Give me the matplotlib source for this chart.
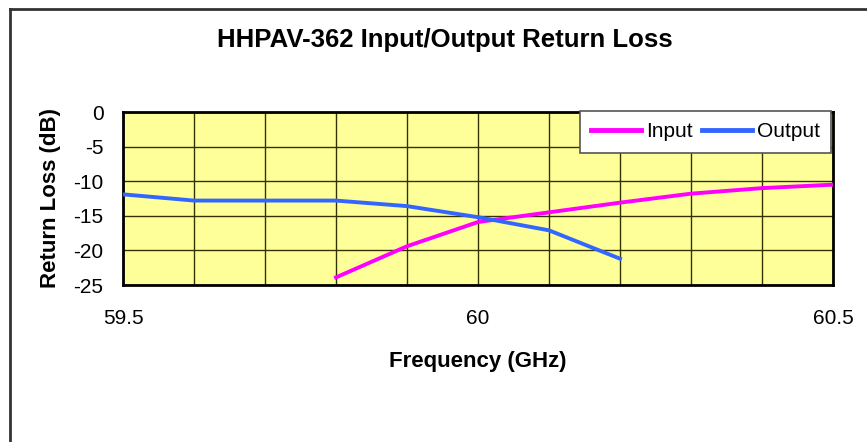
import matplotlib
matplotlib.use('Agg')
import matplotlib.pyplot as plt
from matplotlib.lines import Line2D

# frequency points (GHz) and return loss (dB)
freq_in = [59.8, 59.9, 60.0, 60.1, 60.2, 60.3, 60.4, 60.5]
loss_in = [-23.9, -19.4, -15.9, -14.5, -13.1, -11.8, -11.0, -10.5]

freq_out = [59.5, 59.6, 59.7, 59.8, 59.9, 60.0, 60.1, 60.2]
loss_out = [-11.9, -12.8, -12.8, -12.8, -13.6, -15.2, -17.1, -21.2]

x_ticks = [59.5, 60.0, 60.5]
x_tick_labels = ['59.5', '60', '60.5']
y_ticks = [0, -5, -10, -15, -20, -25]

plt.rcParams['font.family'] = ['Liberation Sans', 'DejaVu Sans']
plt.rcParams['axes.unicode_minus'] = False

fig = plt.figure(figsize=(8.67, 4.42), dpi=100)
ax = fig.add_axes([123 / 867, 1 - 285 / 442, (833 - 123) / 867, (285 - 112) / 442])
ax.set_facecolor('#FFFF99')

ax.plot(freq_in, loss_in, color='#FF00FF', lw=2.8, label='Input', zorder=3)
ax.plot(freq_out, loss_out, color='#3366FF', lw=2.8, label='Output', zorder=3)

ax.set_xlim(59.5, 60.5)
ax.set_ylim(-25, 0)
ax.set_xticks(x_ticks)
ax.set_xticklabels(x_tick_labels)
ax.set_xticks([59.5 + 0.1 * i for i in range(11)], minor=True)
ax.set_yticks(y_ticks)
ax.grid(True, which='both', color='#333300', lw=1.0, zorder=1)
ax.set_axisbelow(True)
ax.tick_params(axis='both', which='both', length=0, labelsize=15)
ax.tick_params(axis='x', pad=17)
ax.tick_params(axis='y', pad=14)
for s in ax.spines.values():
    s.set_linewidth(2)
    s.set_color('black')

ax.set_xlabel('Frequency (GHz)', fontsize=16, fontweight='bold', labelpad=17)
ax.set_ylabel('Return Loss (dB)', fontsize=16, fontweight='bold', labelpad=9)

fig.text(445 / 867, 1 - 40 / 442, 'HHPAV-362 Input/Output Return Loss',
         ha='center', va='center', fontsize=18.5, fontweight='bold')

leg = ax.legend(loc='upper right', ncol=2, fontsize=15, frameon=True, fancybox=False,
                framealpha=1, bbox_to_anchor=(0.9975, 1.006), borderaxespad=0,
                handlelength=2.4, handletextpad=0.25, columnspacing=0.4, borderpad=0.55)
leg.get_frame().set_edgecolor('#555555')
leg.get_frame().set_linewidth(1.2)
for h in leg.get_lines():
    h.set_linewidth(3.5)
leg.set_zorder(5)

# outer chart border (top and left visible)
fig.add_artist(Line2D([10 / 867, 1.0], [1 - 9 / 442, 1 - 9 / 442], color='#333333', lw=2))
fig.add_artist(Line2D([10 / 867, 10 / 867], [0.0, 1 - 9 / 442], color='#333333', lw=2))

fig.savefig('out.png', dpi=100)
